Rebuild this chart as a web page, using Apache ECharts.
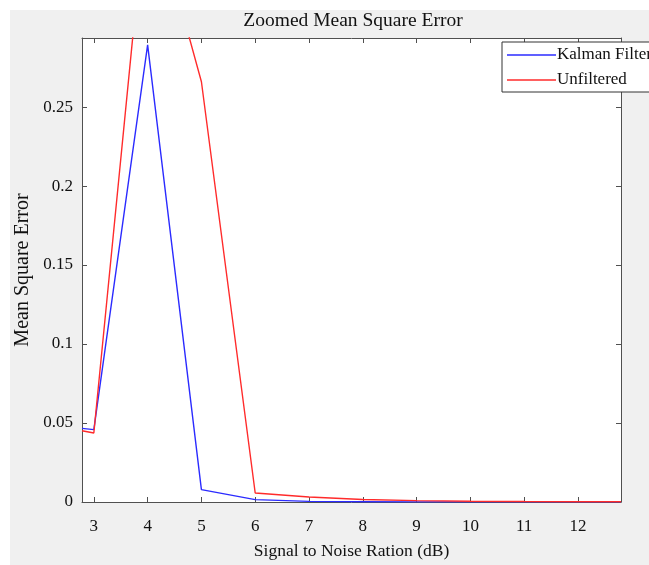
<!DOCTYPE html>
<html>
<head>
<meta charset="utf-8">
<script src="https://cdn.jsdelivr.net/npm/echarts@6/dist/echarts.min.js"></script>
<style>
  html, body { margin: 0; padding: 0; background: #fff; }
  #chart { width: 649px; height: 565px; }
</style>
</head>
<body>
<div id="chart"></div>
<script>
  // signal to noise ratio (dB), the view is zoomed to 2.78 .. 12.8
  var snr = [2.78, 3, 4, 5, 6, 7, 8, 9, 10, 11, 12, 12.8]
  var kalman = [0.0466, 0.0458, 0.2894, 0.0078, 0.0015, 0.0004, 0.0002, 0.0001, 0.0001, 0.0001, 0.0001, 0.0001]
  var unfiltered = [0.0451, 0.0437, 0.39, 0.266, 0.0057, 0.0032, 0.0016, 0.0009, 0.0005, 0.0003, 0.0002, 0.0002]

  var xTicks = [3, 4, 5, 6, 7, 8, 9, 10, 11, 12]
  var yTicks = [0, 0.05, 0.1, 0.15, 0.2, 0.25]
  var xMin = 2.78, xMax = 12.8
  var yMin = 0, yMax = 0.2937

  var font = 'Liberation Serif, Times New Roman, serif'
  var axisColor = '#505050'

  function pairs (xs, ys) {
    var out = []
    for (var i = 0; i < xs.length; i++) out.push([xs[i], ys[i]])
    return out
  }

  function xAxis (pos, main) {
    return {
      type: 'value',
      position: pos,
      min: xMin,
      max: xMax,
      name: main ? 'Signal to Noise Ration (dB)' : '',
      nameLocation: 'middle',
      nameGap: 40,
      nameTextStyle: { fontFamily: font, fontSize: 17.5, color: '#111' },
      axisLine: { show: true, onZero: false, lineStyle: { color: axisColor, width: 1 } },
      axisTick: { show: true, inside: true, length: 5, customValues: xTicks, lineStyle: { color: axisColor } },
      axisLabel: { show: main, customValues: xTicks, margin: 16, fontFamily: font, fontSize: 17, color: '#111' },
      splitLine: { show: false }
    }
  }

  function yAxis (pos, main) {
    return {
      type: 'value',
      position: pos,
      min: yMin,
      max: yMax,
      name: main ? 'Mean Square Error' : '',
      nameLocation: 'middle',
      nameGap: 45,
      nameTextStyle: { fontFamily: font, fontSize: 20, color: '#111' },
      axisLine: { show: true, onZero: false, lineStyle: { color: axisColor, width: 1 } },
      axisTick: { show: true, inside: true, length: 5, customValues: yTicks, lineStyle: { color: axisColor } },
      axisLabel: { show: main, customValues: yTicks, margin: 9, fontFamily: font, fontSize: 17, color: '#111' },
      splitLine: { show: false }
    }
  }

  var chart = echarts.init(document.getElementById('chart'), null, { renderer: 'canvas' })
  chart.setOption({
    animation: false,
    backgroundColor: '#fff',
    graphic: [
      {
        type: 'rect',
        z: -10,
        shape: { x: 10, y: 10, width: 639, height: 555 },
        style: { fill: '#f0f0f0' }
      },
      {
        type: 'text',
        x: 353,
        y: 21,
        style: {
          text: 'Zoomed Mean Square Error',
          font: '19.5px ' + font,
          fill: '#111',
          textAlign: 'center',
          textVerticalAlign: 'middle'
        }
      }
    ],
    grid: {
      left: 82,
      top: 38,
      width: 539,
      height: 464,
      show: true,
      backgroundColor: '#fff',
      borderWidth: 0
    },
    legend: {
      orient: 'vertical',
      left: 502,
      top: 42,
      icon: 'rect',
      itemWidth: 49,
      itemHeight: 1.5,
      itemGap: 5,
      padding: [3, 4, 2, 5],
      backgroundColor: '#fff',
      borderColor: '#333',
      borderWidth: 1,
      textStyle: { fontFamily: font, fontSize: 17, lineHeight: 20, color: '#111', padding: [0, 0, 0, -4] },
      data: ['Kalman Filter', 'Unfiltered']
    },
    xAxis: [xAxis('bottom', true), xAxis('top', false)],
    yAxis: [yAxis('left', true), yAxis('right', false)],
    series: [
      {
        name: 'Kalman Filter',
        type: 'line',
        data: pairs(snr, kalman),
        showSymbol: false,
        clip: true,
        color: '#2b2bff',
        lineStyle: { width: 1.4 }
      },
      {
        name: 'Unfiltered',
        type: 'line',
        data: pairs(snr, unfiltered),
        showSymbol: false,
        clip: true,
        color: '#ff2b2b',
        lineStyle: { width: 1.4 }
      }
    ]
  })
</script>
</body>
</html>
